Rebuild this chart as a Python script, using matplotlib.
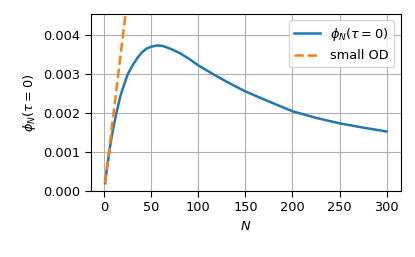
import numpy as np
import matplotlib.pyplot as plt

# values
N = [1, 3, 6, 8, 10, 13, 17, 20, 25, 30, 35, 40, 45, 50, 56, 62, 70, 80, 90,
     100, 116, 130, 150, 175, 200, 225, 250, 275, 300]
phi = [0.00020, 0.00057, 0.00110, 0.00139, 0.00165, 0.00200, 0.00242, 0.00265,
       0.00300, 0.00322, 0.00341, 0.00356, 0.00366, 0.00371, 0.00374, 0.00373,
       0.00366, 0.00355, 0.00340, 0.00323, 0.00300, 0.00281, 0.00256, 0.00230,
       0.00205, 0.00188, 0.00174, 0.00163, 0.00153]

N_od = [1, 30]
phi_od = [0.00020, 0.00600]

plt.rcParams['font.size'] = 9.3
plt.rcParams['xtick.major.size'] = 4
plt.rcParams['ytick.major.size'] = 4

fig = plt.figure(figsize=(4.15, 2.57), dpi=100)
ax = fig.add_axes([91/415, 1-191/257, (400.7-91)/415, (191-14)/257])
ax.plot(N, phi, lw=1.8, label=r"$\phi_N(\tau=0)$")
ax.plot(N_od, phi_od, '--', lw=1.8, label="small OD")
ax.set_xlim(-13.95, 314.95)
ax.set_ylim(0, 0.00455)
ax.set_xticks([0, 50, 100, 150, 200, 250, 300])
ax.set_yticks([0, 0.001, 0.002, 0.003, 0.004])
ax.set_yticklabels(["0.000", "0.001", "0.002", "0.003", "0.004"])
ax.set_xlabel("$N$")
ax.set_ylabel(r"$\phi_N(\tau=0)$")
ax.grid(True)
ax.legend(loc="upper right")
fig.savefig("out.png", dpi=100)
